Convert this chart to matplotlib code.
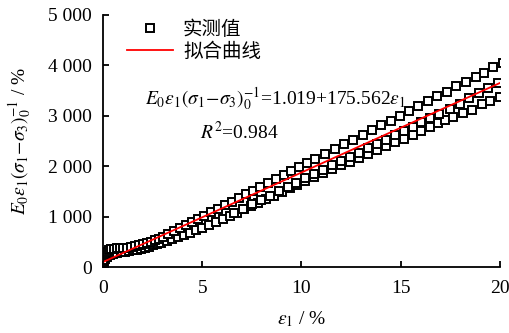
import matplotlib
matplotlib.use("Agg")
import matplotlib.pyplot as plt
from matplotlib.ticker import FuncFormatter

plt.rcParams['font.family'] = ['Liberation Serif', 'Noto Sans CJK SC']
plt.rcParams['mathtext.fontset'] = 'stix'

# Measured data, upper branch
x_u = [0.00, 0.05, 0.12, 0.20, 0.30, 0.42, 0.55, 0.70, 0.85, 1.00, 1.20, 1.40, 1.60, 1.80,
       2.00, 2.20, 2.40, 2.60, 2.80, 3.00, 3.30, 3.60, 3.90, 4.20, 4.50, 4.80, 5.10, 5.45,
       5.80, 6.15, 6.50, 6.85, 7.20, 7.55, 7.90, 8.30, 8.70, 9.10, 9.50, 9.90, 10.26, 10.68,
       11.18, 11.69, 12.14, 12.61, 13.11, 13.55, 14.00, 14.50, 14.96, 15.40, 15.90, 16.40,
       16.85, 17.34, 17.81, 18.28, 18.79, 19.19, 19.66, 20.17]
y_u = [150, 215, 265, 300, 330, 350, 362, 370, 376, 381, 387, 396, 410, 428,
       452, 478, 505, 535, 565, 600, 655, 712, 770, 830, 890, 950, 1015, 1085,
       1160, 1230, 1300, 1370, 1440, 1510, 1585, 1665, 1745, 1825, 1905, 1985, 2055, 2150,
       2245, 2350, 2435, 2530, 2615, 2715, 2810, 2905, 3005, 3095, 3190, 3290,
       3385, 3480, 3590, 3675, 3775, 3855, 3960, 4045]

# Measured data, lower branch
x_l = [0.00, 0.05, 0.10, 0.20, 0.35, 0.50, 0.70, 0.90, 1.10, 1.30, 1.50, 1.70, 1.90, 2.10,
       2.30, 2.50, 2.70, 2.90, 3.20, 3.50, 3.80, 4.10, 4.40, 4.70, 5.00, 5.35, 5.70, 6.05,
       6.40, 6.75, 7.10, 7.45, 7.80, 8.20, 8.60, 9.00, 9.40, 9.80, 10.20, 10.65, 11.10, 11.55,
       12.00, 12.45, 12.90, 13.35, 13.80, 14.25, 14.70, 15.15, 15.60, 16.05, 16.50, 16.90,
       17.25, 17.65, 18.15, 18.58, 19.08, 19.50, 20.00]
y_l = [90, 130, 160, 200, 232, 255, 278, 295, 308, 320, 332, 346, 363, 383,
       405, 428, 452, 476, 514, 553, 595, 638, 682, 726, 770, 830, 892, 955,
       1018, 1082, 1145, 1208, 1272, 1345, 1418, 1490, 1562, 1635, 1708, 1785, 1862, 1938,
       2015, 2092, 2168, 2245, 2320, 2398, 2474, 2550, 2628, 2705, 2780, 2850,
       2910, 2978, 3058, 3125, 3225, 3296, 3376]

# Measured data, middle branch
x_m = [6.60, 7.05, 7.50, 7.95, 8.40, 8.85, 9.30, 9.75, 10.20, 10.65, 11.10, 11.55, 12.00,
       12.45, 12.90, 13.35, 13.80, 14.25, 14.70, 15.15, 15.60, 16.05, 16.50, 16.95, 17.50,
       17.98, 18.45, 18.96, 19.40, 19.90]
y_m = [1075, 1160, 1245, 1330, 1415, 1500, 1590, 1675, 1760, 1845, 1930, 2015, 2100,
       2185, 2270, 2355, 2440, 2525, 2612, 2700, 2785, 2870, 2955, 3040, 3140,
       3240, 3344, 3443, 3543, 3642]

# Fitted line end points
fit_x = [0, 20]
fit_y = [100, 3650]

x_ticks = [0, 5, 10, 15, 20]
y_ticks = [0, 1000, 2000, 3000, 4000, 5000]

fig = plt.figure(figsize=(5.10, 3.33), dpi=100)
ax = fig.add_axes([0.202, 0.198, 0.778, 0.757])

mk = dict(marker='s', linestyle='none', markersize=5.6, markerfacecolor='white',
          markeredgecolor='black', markeredgewidth=1.4)
ax.plot(x_l, y_l, **mk)
ax.plot(x_m, y_m, **mk)
ax.plot(x_u, y_u, label='实测值', **mk)
ax.plot(fit_x, fit_y, color='#ff0000', lw=1.3, label='拟合曲线')

ax.set_xlim(0, 20)
ax.set_ylim(0, 5000)
ax.set_xticks(x_ticks)
ax.set_yticks(y_ticks)
ax.yaxis.set_major_formatter(FuncFormatter(lambda v, p: f"{int(v):,}".replace(",", " ")))
for s in ['top', 'right']:
    ax.spines[s].set_visible(False)
for s in ['left', 'bottom']:
    ax.spines[s].set_linewidth(1.3)
ax.tick_params(direction='in', length=4.5, width=1.3, labelsize=14)
ax.tick_params(axis='x', pad=9)
ax.tick_params(axis='y', pad=8)

ax.set_xlabel(r'$\varepsilon_1$ / %', fontsize=14, labelpad=9)
ax.set_ylabel(r'$E_0\varepsilon_1(\sigma_1\!-\!\sigma_3)_0^{-1}$ / %', fontsize=14, labelpad=10)

ax.text(0.105, 0.665, r'$E_0\varepsilon_1(\sigma_1\!-\!\sigma_3)_0^{-1}$=1.019+175.562$\varepsilon_1$',
        transform=ax.transAxes, fontsize=14, va='center', ha='left')
ax.text(0.245, 0.535, r'$R^2$=0.984', transform=ax.transAxes, fontsize=14,
        va='center', ha='left')

leg = ax.legend(handles=[ax.lines[2], ax.lines[3]], loc='upper left',
                bbox_to_anchor=(0.04, 1.01), frameon=False, fontsize=14,
                handlelength=2.4, handletextpad=0.5, labelspacing=0.2,
                borderaxespad=0.0)

fig.savefig('out.png', dpi=100)
